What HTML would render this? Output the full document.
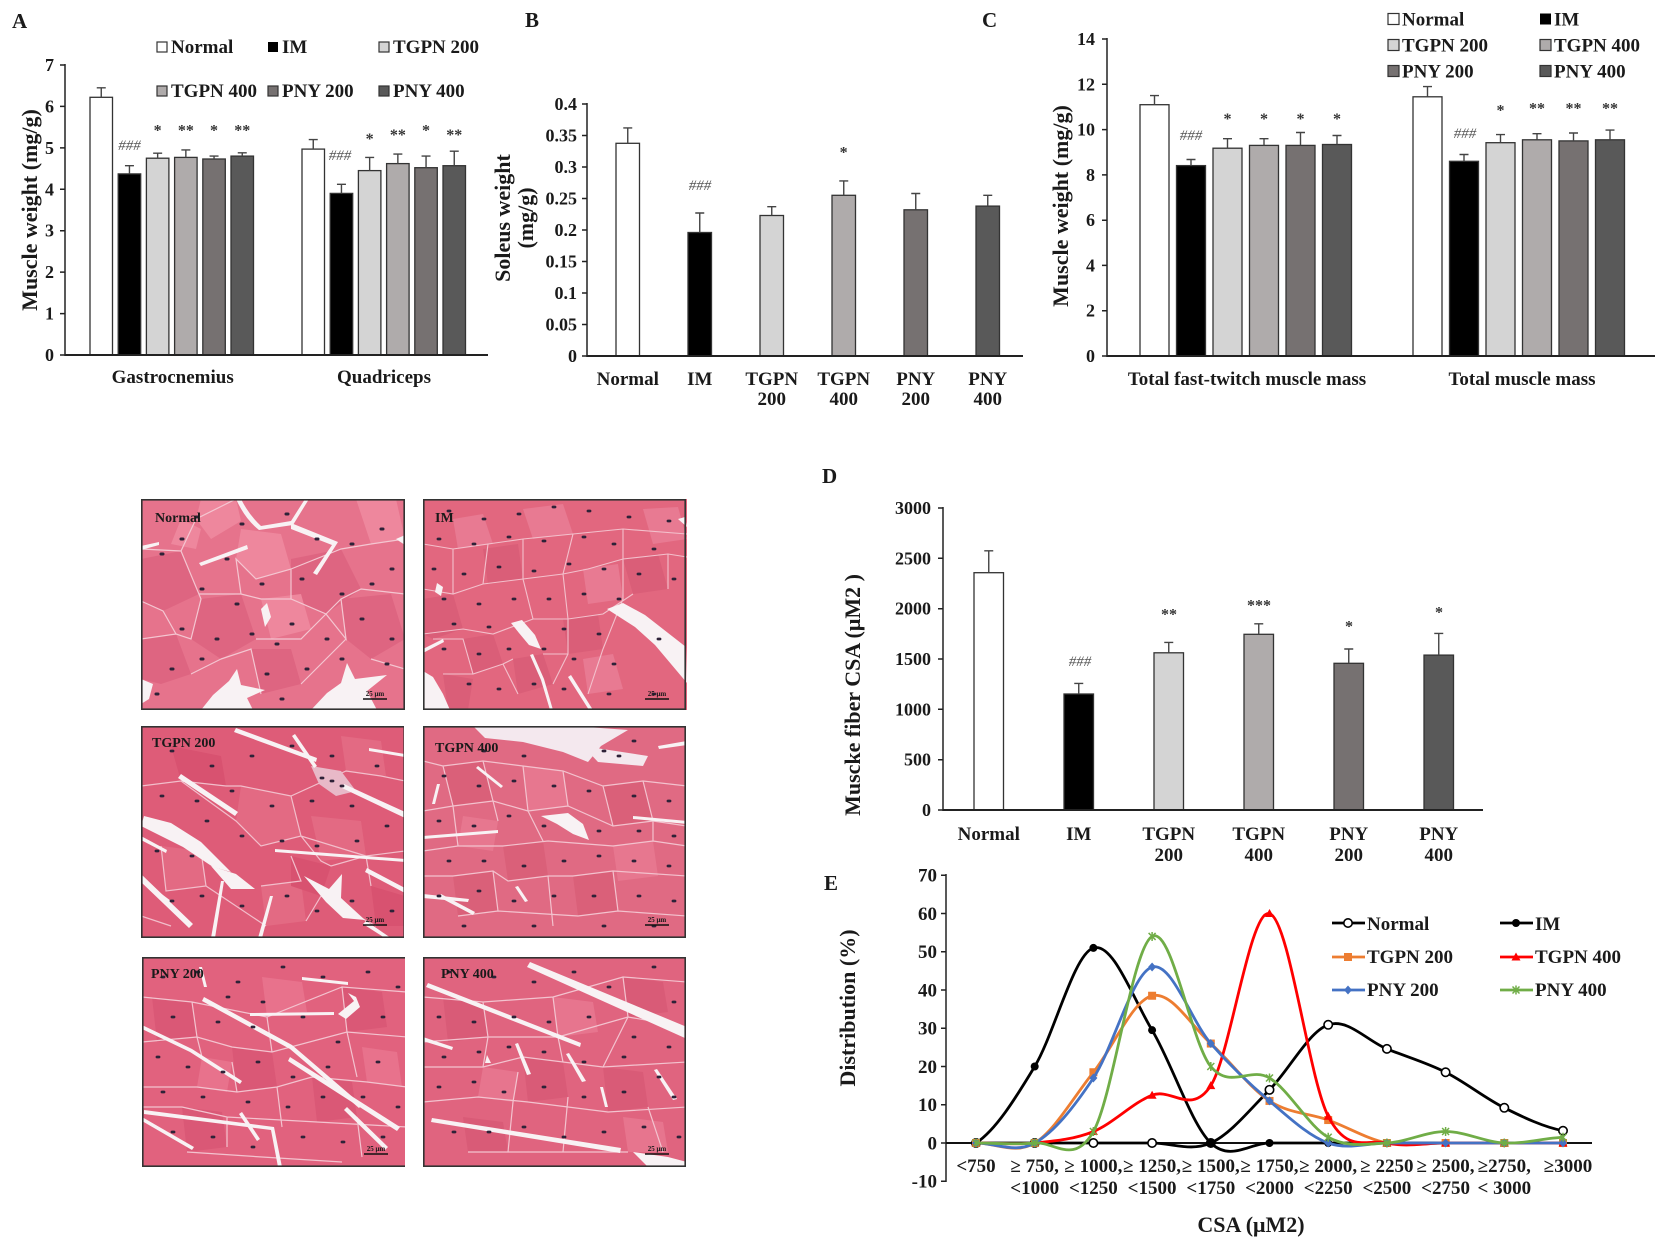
<!DOCTYPE html>
<html><head><meta charset="utf-8">
<style>
html,body{margin:0;padding:0;background:#fff;}
svg{display:block;}
text{font-family:"Liberation Serif","Times New Roman",serif;font-weight:bold;fill:#1a1a1a;}
.ann{font-style:italic;font-weight:normal;fill:#555;font-size:15px;}
.st{font-size:16px;fill:#333;}
</style></head><body>
<svg width="1672" height="1247" viewBox="0 0 1672 1247" xmlns="http://www.w3.org/2000/svg">
<defs>
<marker id="mN" markerWidth="12" markerHeight="12" refX="6" refY="6" markerUnits="userSpaceOnUse"><circle cx="6" cy="6" r="4.2" fill="#fff" stroke="#000" stroke-width="1.6"/></marker>
<marker id="mI" markerWidth="12" markerHeight="12" refX="6" refY="6" markerUnits="userSpaceOnUse"><circle cx="6" cy="6" r="4" fill="#000"/></marker>
<marker id="mT2" markerWidth="12" markerHeight="12" refX="6" refY="6" markerUnits="userSpaceOnUse"><rect x="2" y="2" width="8" height="8" fill="#ED7D31"/></marker>
<marker id="mT4" markerWidth="12" markerHeight="12" refX="6" refY="6" markerUnits="userSpaceOnUse"><polygon points="6,1.5 10.5,9.5 1.5,9.5" fill="#FF0000"/></marker>
<marker id="mP2" markerWidth="12" markerHeight="12" refX="6" refY="6" markerUnits="userSpaceOnUse"><polygon points="6,1.5 10,6 6,10.5 2,6" fill="#4472C4"/></marker>
<marker id="mP4" markerWidth="12" markerHeight="12" refX="6" refY="6" markerUnits="userSpaceOnUse"><path d="M2.5,2.5L9.5,9.5M9.5,2.5L2.5,9.5M6,1.5V10.5" stroke="#70AD47" stroke-width="1.5" fill="none"/></marker>
</defs>

<!-- ================= PANEL A ================= -->
<text x="12" y="28" font-size="21">A</text>
<g font-size="19">
<rect x="157" y="42" width="10" height="10" fill="#fff" stroke="#333" stroke-width="1.2"/><text x="171" y="53">Normal</text>
<rect x="268" y="42" width="10" height="10" fill="#000"/><text x="282" y="53">IM</text>
<rect x="379" y="42" width="10" height="10" fill="#d4d4d4" stroke="#333" stroke-width="1.2"/><text x="393" y="53">TGPN 200</text>
<rect x="157" y="86" width="10" height="10" fill="#afabab" stroke="#333" stroke-width="1.2"/><text x="171" y="97">TGPN 400</text>
<rect x="268" y="86" width="10" height="10" fill="#767171" stroke="#333" stroke-width="1.2"/><text x="282" y="97">PNY 200</text>
<rect x="379" y="86" width="10" height="10" fill="#595959" stroke="#333" stroke-width="1.2"/><text x="393" y="97">PNY 400</text>
</g>
<g stroke="#222" stroke-width="1.5">
<line x1="65" y1="64" x2="65" y2="356"/>
<path d="M60,355H65M60,313.6H65M60,272.1H65M60,230.7H65M60,189.3H65M60,147.9H65M60,106.4H65M60,65H65"/>
</g>
<g font-size="18" text-anchor="end">
<text x="54" y="361">0</text><text x="54" y="319.6">1</text><text x="54" y="278.1">2</text><text x="54" y="236.7">3</text>
<text x="54" y="195.3">4</text><text x="54" y="153.9">5</text><text x="54" y="112.4">6</text><text x="54" y="71">7</text>
</g>
<text transform="translate(37,210) rotate(-90)" text-anchor="middle" font-size="22">Muscle weight (mg/g)</text>
<g stroke="#333" stroke-width="1.3">
<rect x="90" y="97.3" width="22.5" height="257.7" fill="#fff"/>
<rect x="118.2" y="173.9" width="22.5" height="181.1" fill="#000"/>
<rect x="146.4" y="158.2" width="22.5" height="196.8" fill="#d4d4d4"/>
<rect x="174.6" y="157.4" width="22.5" height="197.6" fill="#afabab"/>
<rect x="202.8" y="159" width="22.5" height="196" fill="#767171"/>
<rect x="231" y="156.1" width="22.5" height="198.9" fill="#595959"/>
<rect x="302" y="149.1" width="22.5" height="205.9" fill="#fff"/>
<rect x="330.2" y="193.4" width="22.5" height="161.6" fill="#000"/>
<rect x="358.4" y="170.6" width="22.5" height="184.4" fill="#d4d4d4"/>
<rect x="386.6" y="163.6" width="22.5" height="191.4" fill="#afabab"/>
<rect x="414.8" y="167.7" width="22.5" height="187.3" fill="#767171"/>
<rect x="443" y="165.7" width="22.5" height="189.3" fill="#595959"/>
</g>
<path stroke="#444" stroke-width="1.4" fill="none" d="
M101.25,97.3V87.8M96.75,87.8H105.75
M129.45,173.9V165.7M124.95,165.7H133.95
M157.65,158.2V153.2M153.15,153.2H162.15
M185.85,157.4V149.9M181.35,149.9H190.35
M214.05,159V156.1M209.55,156.1H218.55
M242.25,156.1V152.8M237.75,152.8H246.75
M313.25,149.1V139.6M308.75,139.6H317.75
M341.45,193.4V184.3M336.95,184.3H345.95
M369.65,170.6V157.4M365.15,157.4H374.15
M397.85,163.6V154.1M393.35,154.1H402.35
M426.05,167.7V156.1M421.55,156.1H430.55
M454.25,165.7V151.2M449.75,151.2H458.75"/>
<line x1="65" y1="355" x2="488" y2="355" stroke="#222" stroke-width="2"/>
<text class="ann" x="129.5" y="150" text-anchor="middle">###</text>
<text class="ann" x="340" y="160" text-anchor="middle">###</text>
<g class="st" text-anchor="middle">
<text class="st" x="157.65" y="135.5">*</text><text class="st" x="185.85" y="135.5">**</text><text class="st" x="214.05" y="135.5">*</text><text class="st" x="242.25" y="135.5">**</text>
<text class="st" x="369.65" y="144">*</text><text class="st" x="397.85" y="140">**</text><text class="st" x="426.05" y="135.5">*</text><text class="st" x="454.25" y="140">**</text>
</g>
<g font-size="19" text-anchor="middle">
<text x="172.7" y="383">Gastrocnemius</text>
<text x="384" y="383">Quadriceps</text>
</g>

<!-- ================= PANEL B ================= -->
<text x="525" y="27" font-size="21">B</text>
<g stroke="#222" stroke-width="1.5">
<line x1="587" y1="103" x2="587" y2="357"/>
<path d="M582,356H587M582,324.5H587M582,293H587M582,261.5H587M582,230H587M582,198.5H587M582,167H587M582,135.5H587M582,104H587"/>
</g>
<g font-size="18" text-anchor="end">
<text x="577" y="362">0</text><text x="577" y="330.5">0.05</text><text x="577" y="299">0.1</text><text x="577" y="267.5">0.15</text>
<text x="577" y="236">0.2</text><text x="577" y="204.5">0.25</text><text x="577" y="173">0.3</text><text x="577" y="141.5">0.35</text><text x="577" y="110">0.4</text>
</g>
<text transform="translate(510,218) rotate(-90)" text-anchor="middle" font-size="22">Soleus weight</text>
<text transform="translate(533,218) rotate(-90)" text-anchor="middle" font-size="22">(mg/g)</text>
<g stroke="#333" stroke-width="1.3">
<rect x="616" y="143.3" width="23.5" height="212.7" fill="#fff"/>
<rect x="688" y="232.5" width="23.5" height="123.5" fill="#000"/>
<rect x="760" y="215.5" width="23.5" height="140.5" fill="#d4d4d4"/>
<rect x="832" y="195.3" width="23.5" height="160.7" fill="#afabab"/>
<rect x="904" y="209.8" width="23.5" height="146.2" fill="#767171"/>
<rect x="976" y="206.1" width="23.5" height="149.9" fill="#595959"/>
</g>
<path stroke="#444" stroke-width="1.4" fill="none" d="
M627.75,143.3V127.9M623.25,127.9H632.25
M699.75,232.5V213M695.25,213H704.25
M771.75,215.5V206.7M767.25,206.7H776.25
M843.75,195.3V180.9M839.25,180.9H848.25
M915.75,209.8V193.5M911.25,193.5H920.25
M987.75,206.1V195.3M983.25,195.3H992.25"/>
<line x1="587" y1="356" x2="1023" y2="356" stroke="#222" stroke-width="2"/>
<text class="ann" x="700" y="190" text-anchor="middle">###</text>
<text class="st" x="843.6" y="157.5" text-anchor="middle">*</text>
<g font-size="19" text-anchor="middle">
<text x="627.75" y="385">Normal</text>
<text x="699.75" y="385">IM</text>
<text x="771.75" y="385">TGPN</text><text x="771.75" y="405">200</text>
<text x="843.75" y="385">TGPN</text><text x="843.75" y="405">400</text>
<text x="915.75" y="385">PNY</text><text x="915.75" y="405">200</text>
<text x="987.75" y="385">PNY</text><text x="987.75" y="405">400</text>
</g>

<!-- ================= PANEL C ================= -->
<text x="982" y="27" font-size="21">C</text>
<g font-size="19">
<rect x="1388" y="13.5" width="11" height="11" fill="#fff" stroke="#333" stroke-width="1.2"/><text x="1402" y="25.5">Normal</text>
<rect x="1540" y="13.5" width="11" height="11" fill="#000"/><text x="1554" y="25.5">IM</text>
<rect x="1388" y="39.5" width="11" height="11" fill="#d4d4d4" stroke="#333" stroke-width="1.2"/><text x="1402" y="51.5">TGPN 200</text>
<rect x="1540" y="39.5" width="11" height="11" fill="#afabab" stroke="#333" stroke-width="1.2"/><text x="1554" y="51.5">TGPN 400</text>
<rect x="1388" y="65.5" width="11" height="11" fill="#767171" stroke="#333" stroke-width="1.2"/><text x="1402" y="77.5">PNY 200</text>
<rect x="1540" y="65.5" width="11" height="11" fill="#595959" stroke="#333" stroke-width="1.2"/><text x="1554" y="77.5">PNY 400</text>
</g>
<g stroke="#222" stroke-width="1.5">
<line x1="1107" y1="38" x2="1107" y2="357"/>
<path d="M1102,356H1107M1102,310.7H1107M1102,265.4H1107M1102,220.2H1107M1102,174.9H1107M1102,129.6H1107M1102,84.3H1107M1102,39H1107"/>
</g>
<g font-size="18" text-anchor="end">
<text x="1095" y="362">0</text><text x="1095" y="316.7">2</text><text x="1095" y="271.4">4</text><text x="1095" y="226.2">6</text>
<text x="1095" y="180.9">8</text><text x="1095" y="135.6">10</text><text x="1095" y="90.3">12</text><text x="1095" y="45">14</text>
</g>
<text transform="translate(1068,206) rotate(-90)" text-anchor="middle" font-size="22">Muscle weight (mg/g)</text>
<g stroke="#333" stroke-width="1.3">
<rect x="1140" y="104.7" width="29" height="251.3" fill="#fff"/>
<rect x="1176.5" y="165.6" width="29" height="190.4" fill="#000"/>
<rect x="1213" y="148.2" width="29" height="207.8" fill="#d4d4d4"/>
<rect x="1249.5" y="145.4" width="29" height="210.6" fill="#afabab"/>
<rect x="1286" y="145.4" width="29" height="210.6" fill="#767171"/>
<rect x="1322.5" y="144.5" width="29" height="211.5" fill="#595959"/>
<rect x="1413" y="96.8" width="29" height="259.2" fill="#fff"/>
<rect x="1449.5" y="161.3" width="29" height="194.7" fill="#000"/>
<rect x="1486" y="142.7" width="29" height="213.3" fill="#d4d4d4"/>
<rect x="1522.5" y="139.8" width="29" height="216.2" fill="#afabab"/>
<rect x="1559" y="140.9" width="29" height="215.1" fill="#767171"/>
<rect x="1595.5" y="139.8" width="29" height="216.2" fill="#595959"/>
</g>
<path stroke="#444" stroke-width="1.4" fill="none" d="
M1154.5,104.7V95.6M1150,95.6H1159
M1191,165.6V159.5M1186.5,159.5H1195.5
M1227.5,148.2V138.7M1223,138.7H1232
M1264,145.4V138.7M1259.5,138.7H1268.5
M1300.5,145.4V132.5M1296,132.5H1305
M1337,144.5V135.5M1332.5,135.5H1341.5
M1427.5,96.8V86.6M1423,86.6H1432
M1464,161.3V154.5M1459.5,154.5H1468.5
M1500.5,142.7V134.6M1496,134.6H1505
M1537,139.8V133.7M1532.5,133.7H1541.5
M1573.5,140.9V133M1569,133H1578
M1610,139.8V130.1M1605.5,130.1H1614.5"/>
<line x1="1107" y1="356" x2="1655" y2="356" stroke="#222" stroke-width="2"/>
<text class="ann" x="1191" y="140" text-anchor="middle">###</text>
<text class="ann" x="1465" y="138" text-anchor="middle">###</text>
<g text-anchor="middle">
<text class="st" x="1227.5" y="124">*</text><text class="st" x="1264" y="124">*</text><text class="st" x="1300.5" y="124">*</text><text class="st" x="1337" y="124">*</text>
<text class="st" x="1500.5" y="115.5">*</text><text class="st" x="1537" y="113.5">**</text><text class="st" x="1573.5" y="113.5">**</text><text class="st" x="1610" y="113.5">**</text>
</g>
<g font-size="19" text-anchor="middle">
<text x="1247" y="385">Total fast-twitch muscle mass</text>
<text x="1522" y="385">Total muscle mass</text>
</g>

<!-- ================= PANEL D ================= -->
<text x="822" y="483" font-size="21">D</text>
<g stroke="#222" stroke-width="1.5">
<line x1="943" y1="507" x2="943" y2="811"/>
<path d="M938,810H943M938,759.7H943M938,709.3H943M938,659H943M938,608.7H943M938,558.3H943M938,508H943"/>
</g>
<g font-size="18" text-anchor="end">
<text x="931" y="816">0</text><text x="931" y="765.7">500</text><text x="931" y="715.3">1000</text><text x="931" y="665">1500</text>
<text x="931" y="614.7">2000</text><text x="931" y="564.3">2500</text><text x="931" y="514">3000</text>
</g>
<text transform="translate(860,695) rotate(-90)" text-anchor="middle" font-size="22">Muscke fiber CSA (μM2 )</text>
<g stroke="#333" stroke-width="1.3">
<rect x="974" y="572.7" width="29.5" height="237.3" fill="#fff"/>
<rect x="1064" y="694" width="29.5" height="116" fill="#000"/>
<rect x="1154" y="652.8" width="29.5" height="157.2" fill="#d4d4d4"/>
<rect x="1244" y="634.3" width="29.5" height="175.7" fill="#afabab"/>
<rect x="1334" y="663.3" width="29.5" height="146.7" fill="#767171"/>
<rect x="1424" y="655.1" width="29.5" height="154.9" fill="#595959"/>
</g>
<path stroke="#444" stroke-width="1.4" fill="none" d="
M988.75,572.7V550.8M984.25,550.8H993.25
M1078.75,694V683.4M1074.25,683.4H1083.25
M1168.75,652.8V642.4M1164.25,642.4H1173.25
M1258.75,634.3V623.8M1254.25,623.8H1263.25
M1348.75,663.3V649M1344.25,649H1353.25
M1438.75,655.1V633.4M1434.25,633.4H1443.25"/>
<line x1="943" y1="810" x2="1483" y2="810" stroke="#222" stroke-width="2"/>
<text class="ann" x="1080" y="666" text-anchor="middle">###</text>
<g text-anchor="middle">
<text class="st" x="1169" y="619.5">**</text><text class="st" x="1259" y="610.5">***</text>
<text class="st" x="1349" y="631.5">*</text><text class="st" x="1439" y="617.5">*</text>
</g>
<g font-size="19" text-anchor="middle">
<text x="988.75" y="840">Normal</text>
<text x="1078.75" y="840">IM</text>
<text x="1168.75" y="840">TGPN</text><text x="1168.75" y="861">200</text>
<text x="1258.75" y="840">TGPN</text><text x="1258.75" y="861">400</text>
<text x="1348.75" y="840">PNY</text><text x="1348.75" y="861">200</text>
<text x="1438.75" y="840">PNY</text><text x="1438.75" y="861">400</text>
</g>

<!-- ================= PANEL E ================= -->
<text x="824" y="890" font-size="21">E</text>
<g stroke="#222" stroke-width="1.5">
<line x1="946" y1="874" x2="946" y2="1182"/>
<path d="M941,875.25H946M941,913.5H946M941,951.75H946M941,990H946M941,1028.25H946M941,1066.5H946M941,1104.75H946M941,1143H946M941,1181.25H946"/>
</g>
<g font-size="19" text-anchor="end">
<text x="937" y="881.5">70</text><text x="937" y="919.75">60</text><text x="937" y="958">50</text><text x="937" y="996.25">40</text>
<text x="937" y="1034.5">30</text><text x="937" y="1072.75">20</text><text x="937" y="1111">10</text><text x="937" y="1149.25">0</text><text x="937" y="1187.5">-10</text>
</g>
<text transform="translate(855,1008) rotate(-90)" text-anchor="middle" font-size="22">Distribution (%)</text>
<line x1="946" y1="1143" x2="1592" y2="1143" stroke="#111" stroke-width="2"/>

<g fill="none" stroke-width="2.8" stroke-linejoin="round">
<path stroke="#000" d="M976,1143 L1152.1,1143 C1171.67,1143 1191.23,1151.86 1210.8,1143 C1230.37,1134.14 1249.93,1109.53 1269.5,1089.83 C1289.07,1070.13 1308.63,1031.63 1328.2,1024.81 C1347.77,1017.99 1367.33,1041 1386.9,1048.9 C1406.47,1056.81 1426.03,1062.42 1445.6,1072.24 C1465.17,1082.06 1484.73,1098.06 1504.3,1107.81 C1523.87,1117.56 1543.43,1126.94 1563,1130.76"/>
<polyline stroke="none" marker-start="url(#mN)" marker-mid="url(#mN)" marker-end="url(#mN)" points="976,1143 1034.7,1143 1093.4,1143 1152.1,1143 1210.8,1143 1269.5,1089.83 1328.2,1024.81 1386.9,1048.9 1445.6,1072.24 1504.3,1107.81 1563,1130.76"/>
<path stroke="#000" d="M976,1143 C995.57,1130.25 1015.13,1099.01 1034.7,1066.5 C1054.27,1033.99 1073.83,953.98 1093.4,947.93 C1112.97,941.87 1132.53,997.65 1152.1,1030.16 C1171.67,1062.68 1191.23,1124.19 1210.8,1143 C1230.37,1161.81 1249.93,1143 1269.5,1143 L1563,1143"/>
<polyline stroke="none" marker-start="url(#mI)" marker-mid="url(#mI)" marker-end="url(#mI)" points="976,1143 1034.7,1066.5 1093.4,947.93 1152.1,1030.16 1210.8,1143 1269.5,1143 1328.2,1143 1386.9,1143 1445.6,1143 1504.3,1143 1563,1143"/>
<path stroke="#ED7D31" d="M976,1143 C995.57,1143 1015.13,1154.79 1034.7,1143 C1054.27,1131.21 1073.83,1096.78 1093.4,1072.24 C1112.97,1047.69 1132.53,1000.52 1152.1,995.74 C1171.67,990.96 1191.23,1026.02 1210.8,1043.55 C1230.37,1061.08 1249.93,1088.18 1269.5,1100.93 C1289.07,1113.67 1308.63,1113.04 1328.2,1120.05 C1347.77,1127.06 1367.33,1139.18 1386.9,1143 C1406.47,1146.83 1426.03,1143 1445.6,1143 L1563,1143"/>
<polyline stroke="none" marker-start="url(#mT2)" marker-mid="url(#mT2)" marker-end="url(#mT2)" points="976,1143 1034.7,1143 1093.4,1072.24 1152.1,995.74 1210.8,1043.55 1269.5,1100.93 1328.2,1120.05 1386.9,1143 1445.6,1143 1504.3,1143 1563,1143"/>
<path stroke="#FF0000" d="M976,1143 C995.57,1143 1015.13,1144.91 1034.7,1143 C1054.27,1141.09 1073.83,1139.49 1093.4,1131.53 C1112.97,1123.56 1132.53,1102.84 1152.1,1095.19 C1171.67,1087.54 1191.23,1115.91 1210.8,1085.63 C1230.37,1055.34 1249.93,908.4 1269.5,913.5 C1289.07,918.6 1308.63,1077.98 1328.2,1116.23 C1347.77,1154.48 1367.33,1138.54 1386.9,1143 C1406.47,1147.46 1426.03,1143 1445.6,1143 L1563,1143"/>
<polyline stroke="none" marker-start="url(#mT4)" marker-mid="url(#mT4)" marker-end="url(#mT4)" points="976,1143 1034.7,1143 1093.4,1131.53 1152.1,1095.19 1210.8,1085.63 1269.5,913.5 1328.2,1116.23 1386.9,1143 1445.6,1143 1504.3,1143 1563,1143"/>
<path stroke="#4472C4" d="M976,1143 C995.57,1143 1015.13,1153.84 1034.7,1143 C1054.27,1132.16 1073.83,1107.3 1093.4,1077.98 C1112.97,1048.65 1132.53,972.79 1152.1,967.05 C1171.67,961.31 1191.23,1021.24 1210.8,1043.55 C1230.37,1065.86 1249.93,1084.35 1269.5,1100.93 C1289.07,1117.5 1308.63,1135.99 1328.2,1143 C1347.77,1150.01 1367.33,1143 1386.9,1143 L1563,1143"/>
<polyline stroke="none" marker-start="url(#mP2)" marker-mid="url(#mP2)" marker-end="url(#mP2)" points="976,1143 1034.7,1143 1093.4,1077.98 1152.1,967.05 1210.8,1043.55 1269.5,1100.93 1328.2,1143 1386.9,1143 1445.6,1143 1504.3,1143 1563,1143"/>
<path stroke="#70AD47" d="M976,1143 C995.57,1143 1015.13,1144.91 1034.7,1143 C1054.27,1141.09 1073.83,1165.95 1093.4,1131.53 C1112.97,1097.1 1132.53,947.29 1152.1,936.45 C1171.67,925.61 1191.23,1042.91 1210.8,1066.5 C1230.37,1090.09 1249.93,1066.18 1269.5,1077.98 C1289.07,1089.77 1308.63,1126.43 1328.2,1137.26 C1347.77,1148.1 1367.33,1143.96 1386.9,1143 C1406.47,1142.04 1426.03,1131.53 1445.6,1131.53 C1465.17,1131.53 1484.73,1142.04 1504.3,1143 C1523.87,1143.96 1543.43,1138.22 1563,1137.26"/>
<polyline stroke="none" marker-start="url(#mP4)" marker-mid="url(#mP4)" marker-end="url(#mP4)" points="976,1143 1034.7,1143 1093.4,1131.53 1152.1,936.45 1210.8,1066.5 1269.5,1077.98 1328.2,1137.26 1386.9,1143 1445.6,1131.53 1504.3,1143 1563,1137.26"/>
</g>

<!-- legend E -->
<g stroke-width="2.8">
<line x1="1332" y1="923" x2="1365" y2="923" stroke="#000"/>
<circle cx="1348" cy="923" r="4.2" fill="#fff" stroke="#000" stroke-width="1.6"/>
<line x1="1500" y1="923" x2="1533" y2="923" stroke="#000"/>
<circle cx="1516" cy="923" r="4" fill="#000" stroke="none"/>
<line x1="1332" y1="957" x2="1365" y2="957" stroke="#ED7D31"/>
<rect x="1344" y="953" width="8" height="8" fill="#ED7D31" stroke="none"/>
<line x1="1500" y1="957" x2="1533" y2="957" stroke="#FF0000"/>
<polygon points="1516,952.5 1520.5,960.5 1511.5,960.5" fill="#FF0000" stroke="none"/>
<line x1="1332" y1="990" x2="1365" y2="990" stroke="#4472C4"/>
<polygon points="1348,985.5 1352,990 1348,994.5 1344,990" fill="#4472C4" stroke="none"/>
<line x1="1500" y1="990" x2="1533" y2="990" stroke="#70AD47"/>
<path d="M1512.5,986.5L1519.5,993.5M1519.5,986.5L1512.5,993.5M1516,985.5V994.5" stroke="#70AD47" stroke-width="1.5"/>
</g>
<g font-size="19">
<text x="1367" y="930">Normal</text><text x="1535" y="930">IM</text>
<text x="1367" y="963">TGPN 200</text><text x="1535" y="963">TGPN 400</text>
<text x="1367" y="996">PNY 200</text><text x="1535" y="996">PNY 400</text>
</g>
<g font-size="19" text-anchor="middle">
<text x="976" y="1172">&lt;750</text>
<text x="1034.7" y="1172">≥ 750,</text>
<text x="1093.4" y="1172">≥ 1000,</text>
<text x="1152.1" y="1172">≥ 1250,</text>
<text x="1210.8" y="1172">≥ 1500,</text>
<text x="1269.5" y="1172">≥ 1750,</text>
<text x="1328.2" y="1172">≥ 2000,</text>
<text x="1386.9" y="1172">≥ 2250</text>
<text x="1445.6" y="1172">≥ 2500,</text>
<text x="1504.3" y="1172">≥2750,</text>
<text x="1568" y="1172">≥3000</text>
<text x="1034.7" y="1194">&lt;1000</text>
<text x="1093.4" y="1194">&lt;1250</text>
<text x="1152.1" y="1194">&lt;1500</text>
<text x="1210.8" y="1194">&lt;1750</text>
<text x="1269.5" y="1194">&lt;2000</text>
<text x="1328.2" y="1194">&lt;2250</text>
<text x="1386.9" y="1194">&lt;2500</text>
<text x="1445.6" y="1194">&lt;2750</text>
<text x="1504.3" y="1194">&lt; 3000</text>
</g>
<text x="1251" y="1232" font-size="22" text-anchor="middle">CSA (μM2)</text>

<!-- ================= HISTOLOGY ================= -->
<clipPath id="c1"><rect width="264" height="211"/></clipPath>
<clipPath id="c2"><rect width="263" height="212"/></clipPath>

<!-- Normal -->
<g transform="translate(141,499)" clip-path="url(#c1)">
<rect width="264" height="211" fill="#E6738C"/>
<path fill="#DE6581" d="M0,60L40,52L58,95L22,112L0,102Z M60,100L100,95L115,140L80,160L50,140Z M150,60L200,50L220,90L185,115L150,100Z M200,100L250,95L264,140L230,160L205,140Z M0,140L35,135L50,175L20,185L0,180Z M110,150L150,150L160,185L120,195Z"/>
<path fill="#EE879D" d="M100,30L140,35L150,70L115,80L95,60Z M60,0L95,0L100,22L70,40L55,20Z M215,0L255,0L264,40L230,45Z M120,100L160,95L170,130L130,140Z M40,20L60,30L55,50L30,45Z"/>
<path fill="none" stroke="#F4C6D1" stroke-width="1.2" d="M0,50L40,52L60,100L50,140L35,135L22,112L0,102 M58,95L100,95L120,100L150,100L185,115L205,140L200,100L220,90L264,95 M100,95L95,60L115,80L150,70L150,100 M40,52L55,20L95,0 M150,70L200,50L230,45L264,40 M115,140L160,140L170,130L200,100 M80,160L110,150L120,195 M50,175L80,160 M160,185L205,140 M230,160L264,170 M35,135L0,140"/>
<g fill="#F8F2F4">
<path d="M95,0Q104,20 118,31L152,26L168,0L164,0L150,22L120,27Q108,16 100,0Z"/>
<path d="M150,24L197,43L176,76L172,74L191,46L150,30Z"/>
<path d="M58,64L106,46L107,50L60,67Z"/>
<path d="M0,47L18,43L18,46L0,51Z"/>
<polygon points="60,211 72,196 88,182 96,170 100,186 124,191 106,199 112,211"/>
<polygon points="170,211 186,194 200,184 206,164 214,180 246,176 226,192 236,211"/>
<polygon points="0,180 12,185 8,200 0,205"/>
<polygon points="120,110 126,104 130,118 124,128"/>
<polygon points="255,40 264,36 264,46"/>
</g>
<path fill="none" stroke="#2E2238" stroke-width="3" stroke-linecap="round" d="M40,40h2M55,18h2M20,55h2M100,25h2M145,15h2M175,40h2M210,45h2M240,30h2M60,90h2M95,105h2M120,85h2M160,80h2M200,95h2M230,85h2M40,130h2M75,140h2M110,135h2M135,145h2M150,125h2M185,140h2M220,120h2M250,140h2M30,170h2M60,160h2M125,175h2M165,170h2M200,160h2M245,165h2M15,195h2M140,200h2M85,60h2M250,70h2"/>
<text x="14" y="23" font-size="14" fill="#111">Normal</text>
<path d="M222,200H246" stroke="#111" stroke-width="1.5"/>
<text x="234" y="197" font-size="7" text-anchor="middle" fill="#111">25 μm</text>
<rect x="0.8" y="0.8" width="262.4" height="209.4" fill="none" stroke="#333" stroke-width="1.6"/>
</g>

<!-- IM -->
<g transform="translate(423,499)" clip-path="url(#c1)">
<rect width="264" height="211" fill="#E2677F"/>
<path fill="#DA5E78" d="M0,100L30,95L40,130L10,140L0,135Z M40,140L70,135L80,165L50,175Z M90,160L120,155L130,185L95,195Z M140,120L175,115L180,150L145,155Z M200,60L235,55L245,90L210,95Z M60,50L95,45L100,80L65,85Z M20,175L50,180L45,211L25,211Z"/>
<path fill="#E87A92" d="M100,10L140,5L150,35L110,40Z M160,70L195,65L200,100L165,105Z M30,20L60,15L70,45L35,50Z M220,10L255,8L264,40L230,45Z M160,160L190,155L200,190L165,195Z"/>
<path fill="none" stroke="#F3C0CC" stroke-width="1.1" d="M0,45L30,50L65,45L100,40L150,35L200,30L264,35 M0,90L30,95L60,85L100,80L140,75L165,70L200,60L245,55L264,58 M0,135L40,130L70,135L110,120L145,120L180,115L210,95 M10,140L40,140L50,175L80,165L95,195 M30,50L30,95 M65,45L60,85 M100,40L100,80L110,120 M150,35L140,75L145,120L145,155L130,185 M200,30L200,60L200,100L180,150L165,195 M245,55L245,90 M120,155L145,155 M50,175L20,175 M90,160L80,165"/>
<g fill="#F8F2F4">
<polygon points="184,110 200,104 222,116 263,148 264,184 248,165 232,146 212,128"/>
<polygon points="0,172 10,178 20,195 27,211 0,211"/>
<polygon points="88,124 99,121 112,136 118,150 106,146 96,134"/>
<polygon points="14,84 20,88 18,97 12,93"/>
<path d="M0,150L20,140L21,143L0,154Z"/>
<path d="M148,176L170,211L166,211L145,178Z"/>
<path d="M110,155L121,180L130,211L127,211L118,181L107,156Z"/>
<polygon points="255,20 262,18 264,28"/>
</g>
<path fill="none" stroke="#2E2238" stroke-width="2.8" stroke-linecap="round" d="M25,12h2M60,20h2M95,15h2M130,8h2M165,12h2M205,18h2M245,22h2M15,40h2M50,45h2M85,38h2M120,42h2M160,38h2M190,45h2M230,50h2M10,70h2M40,75h2M75,68h2M110,72h2M145,65h2M180,70h2M215,75h2M250,80h2M20,100h2M55,105h2M90,100h2M125,100h2M160,95h2M195,100h2M30,125h2M65,128h2M140,130h2M175,135h2M20,150h2M55,155h2M85,150h2M120,150h2M150,160h2M190,165h2M45,185h2M75,190h2M110,185h2M140,190h2M185,195h2M230,195h2M235,140h2"/>
<text x="12" y="23" font-size="14" fill="#111">IM</text>
<path d="M222,200H246" stroke="#111" stroke-width="1.5"/>
<text x="234" y="197" font-size="7" text-anchor="middle" fill="#111">25 μm</text>
<rect x="0.8" y="0.8" width="261.4" height="209.4" fill="none" stroke="#333" stroke-width="1.6"/>
</g>

<!-- TGPN 200 -->
<g transform="translate(141,726)" clip-path="url(#c2)">
<rect width="264" height="212" fill="#DE5C78"/>
<path fill="#E36A83" d="M100,60L150,70L160,110L120,120L95,95Z M170,90L220,95L225,130L180,135Z M20,120L60,125L65,160L25,165Z M120,160L160,155L165,195L125,200Z M200,10L240,15L245,50L205,45Z"/>
<path fill="#D85270" d="M30,20L80,30L85,60L40,55Z M150,130L190,140L180,170L150,160Z M230,160L264,170L264,200L235,200Z"/>
<path fill="none" stroke="#F2BECB" stroke-width="1.2" d="M0,60L40,55L95,95L120,120L160,110L225,130 M40,55L85,60L100,60L150,70L205,45L240,50L264,55 M150,70L160,110L180,135L190,140L225,130L264,125 M20,120L25,165L65,160L60,125 M65,160L125,200 M120,160L160,155L150,130 M165,195L180,170L235,200 M230,160L225,130 M0,190L30,200"/>
<path fill="#E8B9C8" d="M170,40L200,45L215,65L195,70L178,58Z"/>
<g fill="#F8F2F4">
<polygon points="3,90 30,97 60,116 90,146 72,141 42,121 12,106 0,100"/>
<path d="M40,48L97,86L94,90L37,52Z"/>
<polygon points="70,140 95,148 114,163 90,163"/>
<polygon points="163,150 188,163 201,148 200,172 224,194 202,192 185,176"/>
<path d="M0,148L52,198L48,202L0,156Z"/>
<path d="M95,2L176,32L175,36L93,6Z"/>
<path d="M154,8L176,40L173,42L151,10Z"/>
<path d="M203,58L264,86L264,92L201,62Z"/>
<path d="M134,123L264,133L264,136L134,126Z"/>
<path d="M0,110L26,124L25,127L0,114Z"/>
<path d="M83,155L74,212L70,212L80,155Z"/>
<path d="M132,170L121,212L117,212L129,170Z"/>
<path d="M226,142L264,162L264,167L224,146Z"/>
<path d="M228,22L264,28L264,31L228,25Z"/>
<path d="M10,160L30,175L28,178L8,163Z"/>
<path d="M225,195L250,212L244,212L222,198Z"/>
</g>
<path fill="none" stroke="#2E2238" stroke-width="2.8" stroke-linecap="round" d="M30,25h2M70,40h2M110,30h2M150,20h2M190,30h2M235,40h2M20,70h2M55,75h2M90,65h2M130,80h2M170,75h2M210,80h2M245,100h2M15,125h2M50,130h2M100,110h2M140,115h2M175,120h2M215,115h2M30,175h2M60,170h2M100,180h2M145,170h2M175,185h2M210,175h2M250,185h2M65,95h2M190,55h2M200,60h2M180,52h2"/>
<text x="11" y="21" font-size="14" fill="#111">TGPN 200</text>
<path d="M222,199H246" stroke="#111" stroke-width="1.5"/>
<text x="234" y="196" font-size="7" text-anchor="middle" fill="#111">25 μm</text>
<rect x="0.8" y="0.8" width="262.4" height="210.4" fill="none" stroke="#333" stroke-width="1.6"/>
</g>

<!-- TGPN 400 -->
<g transform="translate(423,726)" clip-path="url(#c2)">
<rect width="264" height="212" fill="#E06A83"/>
<path fill="#DA6079" d="M20,40L60,35L70,75L30,80Z M80,120L120,115L125,150L85,155Z M180,60L220,55L230,95L190,100Z M30,150L70,145L75,185L35,190Z M150,150L190,145L195,185L155,190Z"/>
<path fill="#E7778F" d="M100,40L140,45L145,80L105,85Z M190,120L230,115L235,150L195,155Z M40,90L75,95L70,125L35,120Z"/>
<path fill="none" stroke="#F3C2CE" stroke-width="1.2" d="M0,35L20,40L60,35L100,40L140,45L180,60L220,55L264,60 M0,85L30,80L70,75L105,85L145,80L190,100L230,95L264,100 M0,125L35,120L80,120L125,115L190,120L230,115L264,120 M0,150L30,150L70,145L85,155L125,150L150,150L190,145L264,150 M35,190L75,185L155,190L195,185L264,190 M20,40L30,80L35,120 M60,35L70,75L75,95 M100,40L105,85L120,115 M140,45L145,80 M180,60L190,100 M220,55L230,95L230,115 M70,145L75,185 M125,150L130,200 M190,145L195,185"/>
<g fill="#F4E8EE">
<polygon points="50,0 150,0 205,4 178,20 165,36 140,26 100,16 62,12"/>
<polygon points="160,20 225,30 220,40 175,36"/>
</g>
<g fill="#F8F2F4">
<polygon points="118,90 145,87 160,98 166,114 150,108 134,98"/>
<path d="M0,110L75,104L75,107L0,113Z"/>
<path d="M14,58L9,78L12,78L17,58Z"/>
<path d="M18,168L52,186L50,189L16,171Z"/>
<path d="M0,168L46,173L45,176L0,172Z"/>
<path d="M55,40L80,60L78,62L53,42Z"/>
<path d="M210,90L264,95L264,98L210,93Z"/>
<path d="M95,160L105,175L102,176L92,161Z"/>
<path d="M235,20L264,15L264,19L236,23Z"/>
</g>
<path fill="none" stroke="#2E2238" stroke-width="2.8" stroke-linecap="round" d="M180,25h2M195,30h2M210,15h2M60,25h2M100,30h2M20,50h2M55,60h2M90,55h2M130,60h2M165,65h2M210,70h2M245,75h2M15,95h2M50,100h2M85,90h2M120,100h2M175,105h2M215,105h2M250,110h2M25,135h2M60,135h2M100,140h2M140,135h2M175,130h2M210,135h2M245,140h2M15,170h2M55,165h2M90,175h2M130,170h2M170,170h2M215,170h2M250,175h2M40,200h2M110,200h2M180,200h2M230,200h2"/>
<text x="12" y="26" font-size="14" fill="#111">TGPN 400</text>
<path d="M222,199H246" stroke="#111" stroke-width="1.5"/>
<text x="234" y="196" font-size="7" text-anchor="middle" fill="#111">25 μm</text>
<rect x="0.8" y="0.8" width="261.4" height="210.4" fill="none" stroke="#333" stroke-width="1.6"/>
</g>

<!-- PNY 200 -->
<g transform="translate(142,957)" clip-path="url(#c2)">
<rect width="265" height="210" fill="#E1627E"/>
<path fill="#DA5876" d="M10,40L50,45L55,80L15,85Z M90,90L130,95L135,130L95,135Z M170,120L210,125L215,160L175,165Z M40,150L80,155L85,190L45,195Z M200,30L240,35L245,70L205,75Z"/>
<path fill="#E8728C" d="M120,20L160,25L165,55L125,60Z M60,100L90,105L85,135L55,130Z M220,90L255,95L260,130L225,125Z"/>
<path fill="none" stroke="#F3C3CF" stroke-width="1.2" d="M0,40L50,45L125,60L200,30L265,35 M0,85L55,80L90,90L130,95L205,75L265,80 M0,130L55,130L95,135L135,130L170,120L225,125L265,130 M0,150L40,150L85,160L175,165L265,170 M45,195L120,200L200,205 M50,45L55,80L60,100 M125,60L130,95 M200,30L205,75L215,120 M90,105L95,135 M135,130L140,170 M215,160L220,200 M85,160L85,190"/>
<g fill="#F8F2F4">
<path d="M0,68L50,92L100,124L98,127L48,95L0,72Z"/>
<path d="M62,40L150,88L220,148L217,151L148,92L60,44Z"/>
<path d="M108,56L192,55L192,58L108,59Z"/>
<polygon points="196,57 212,44 206,36 214,40 218,50 204,62"/>
<path d="M148,100L258,170L255,174L146,104Z"/>
<path d="M2,153L132,170L140,210L136,210L129,173L2,157Z"/>
<path d="M0,160L52,190L50,193L0,164Z"/>
<path d="M160,20L206,25L206,28L160,23Z"/>
<path d="M205,150L246,190L243,193L202,153Z"/>
<path d="M100,155L118,182L115,184L97,157Z"/>
<path d="M60,10L65,30L62,30L57,10Z"/>
</g>
<path fill="none" stroke="#2E2238" stroke-width="2.8" stroke-linecap="round" d="M20,20h2M55,15h2M95,25h2M140,10h2M180,20h2M225,15h2M255,30h2M30,60h2M75,65h2M110,70h2M160,60h2M195,85h2M240,60h2M15,100h2M45,110h2M80,115h2M115,105h2M150,120h2M185,110h2M235,105h2M20,135h2M60,140h2M105,145h2M145,150h2M180,140h2M220,140h2M255,150h2M30,175h2M70,180h2M110,190h2M160,180h2M200,185h2M240,180h2M85,40h2M120,45h2"/>
<text x="9" y="21" font-size="14" fill="#111">PNY 200</text>
<path d="M222,197H246" stroke="#111" stroke-width="1.5"/>
<text x="234" y="194" font-size="7" text-anchor="middle" fill="#111">25 μm</text>
<rect x="0.8" y="0.8" width="263.4" height="208.4" fill="none" stroke="#333" stroke-width="1.6"/>
</g>

<!-- PNY 400 -->
<g transform="translate(423,957)" clip-path="url(#c2)">
<rect width="264" height="210" fill="#E0647F"/>
<path fill="#D95B77" d="M20,40L60,45L65,80L25,85Z M100,100L140,105L145,140L105,145Z M180,110L220,115L225,150L185,155Z M40,160L80,165L85,195L45,195Z M200,20L240,25L245,55L205,60Z"/>
<path fill="#E7758E" d="M130,40L170,45L175,75L135,80Z M60,110L95,115L90,145L55,140Z M200,160L240,165L245,195L205,195Z"/>
<path fill="none" stroke="#F3C3CF" stroke-width="1.2" d="M0,40L60,45L130,40L200,20L264,25 M0,85L65,80L135,80L205,60L264,70 M0,110L60,110L100,100L180,110L264,105 M0,145L55,140L105,145L185,155L264,150 M45,195L120,195L205,195 M60,45L65,80L60,110 M130,40L135,80L140,105 M200,20L205,60L180,110 M95,115L90,145L85,195 M145,140L140,195 M225,150L240,195"/>
<g fill="#F8F2F4">
<path d="M107,5L264,70L264,82L104,10Z"/>
<path d="M5,26L158,86L157,90L3,30Z"/>
<path d="M9,161L198,191L197,196L8,165Z"/>
<path d="M95,86L108,117L104,118L92,87Z"/>
<path d="M146,96L163,124L159,125L143,97Z"/>
<path d="M234,112L254,142L250,143L231,113Z"/>
<path d="M64,98L68,106L62,106Z"/>
<polygon points="210,195 245,200 264,205 264,210 225,210"/>
<path d="M0,80L30,90L29,93L0,84Z"/>
<path d="M180,130L185,150L182,150L177,130Z"/>
</g>
<path fill="none" stroke="#2E2238" stroke-width="2.8" stroke-linecap="round" d="M25,15h2M70,20h2M110,25h2M150,15h2M185,30h2M230,10h2M250,45h2M15,60h2M50,65h2M90,60h2M125,65h2M165,60h2M210,80h2M245,90h2M20,100h2M55,95h2M85,90h2M120,95h2M160,105h2M200,100h2M235,120h2M15,130h2M50,125h2M80,135h2M120,130h2M160,140h2M200,135h2M250,140h2M30,175h2M65,175h2M100,170h2M140,180h2M180,175h2M220,170h2M255,180h2"/>
<text x="18" y="21" font-size="14" fill="#111">PNY 400</text>
<path d="M222,197H246" stroke="#111" stroke-width="1.5"/>
<text x="234" y="194" font-size="7" text-anchor="middle" fill="#111">25 μm</text>
<rect x="0.8" y="0.8" width="261.4" height="208.4" fill="none" stroke="#333" stroke-width="1.6"/>
</g>
</svg>
</body></html>
